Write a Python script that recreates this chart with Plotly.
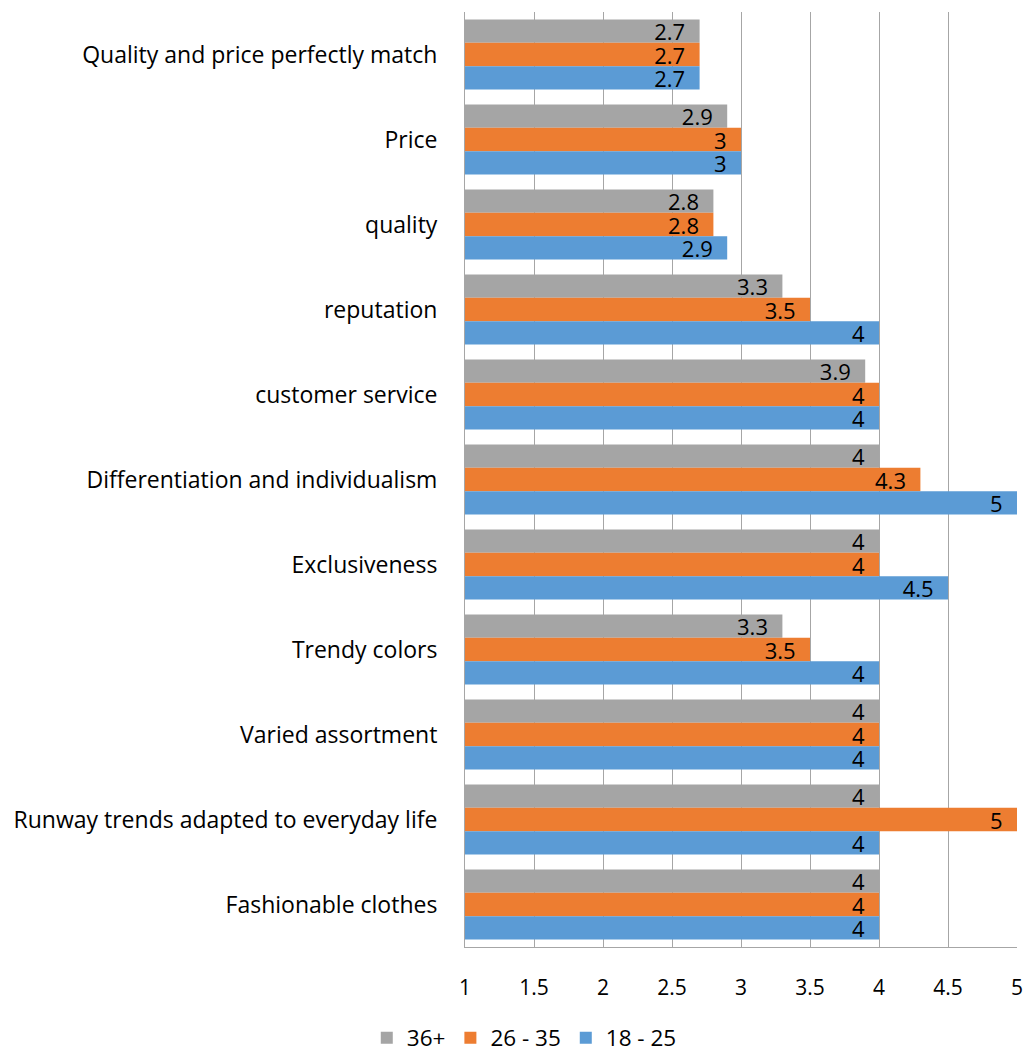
import plotly.graph_objects as go

# Survey attributes (listed top to bottom) and mean scores per age group
categories = [
    "Quality and price perfectly match",
    "Price",
    "quality",
    "reputation",
    "customer service",
    "Differentiation and individualism",
    "Exclusiveness",
    "Trendy colors",
    "Varied assortment",
    "Runway trends adapted to everyday life",
    "Fashionable clothes",
]
age_36_plus = [2.7, 2.9, 2.8, 3.3, 3.9, 4, 4, 3.3, 4, 4, 4]
age_26_35 = [2.7, 3, 2.8, 3.5, 4, 4.3, 4, 3.5, 4, 5, 4]
age_18_25 = [2.7, 3, 2.9, 4, 4, 5, 4.5, 4, 4, 4, 4]

series = [
    ("36+", age_36_plus, "#A5A5A5"),
    ("26 - 35", age_26_35, "#ED7D31"),
    ("18 - 25", age_18_25, "#5B9BD5"),
]

FONT = "'Open Sans', 'Noto Sans', sans-serif"
PAD = "\u00a0\u00a0"  # keeps the value label clear of the bar end

fig = go.Figure()
for name, values, color in series:
    fig.add_trace(go.Bar(
        name=name,
        y=categories,
        x=values,
        base=0,
        orientation="h",
        marker=dict(color=color, line=dict(width=0)),
        text=[f"{v:g}{PAD}" for v in values],
        textposition="inside",
        insidetextanchor="end",
        constraintext="none",
        textangle=0,
        textfont=dict(color="black", size=22, family=FONT),
        cliponaxis=False,
        hovertemplate="%{y}: %{x}<extra>" + name + "</extra>",
    ))

fig.update_layout(
    width=1028,
    height=1053,
    barmode="group",
    bargap=0.175,
    bargroupgap=0,
    plot_bgcolor="white",
    paper_bgcolor="white",
    margin=dict(l=465, r=11, t=12, b=106, autoexpand=False),
    font=dict(family=FONT, size=22, color="black"),
    legend=dict(
        orientation="h",
        xref="container",
        yref="container",
        x=0.51,
        xanchor="center",
        y=0.0142,
        yanchor="middle",
        font=dict(size=22.5, family=FONT),
        itemwidth=30,
    ),
    xaxis=dict(
        range=[1, 5],
        dtick=0.5,
        tick0=1,
        showgrid=True,
        gridcolor="#A6A6A6",
        gridwidth=1,
        showline=True,
        linecolor="#A6A6A6",
        mirror=False,
        zeroline=False,
        ticks="",
        ticklabelstandoff=22,
        tickfont=dict(size=21, family=FONT),
        fixedrange=True,
    ),
    yaxis=dict(
        autorange="reversed",
        showline=True,
        linecolor="#A6A6A6",
        showgrid=False,
        ticks="",
        ticklabelstandoff=22,
        tickfont=dict(size=23, family=FONT),
    ),
)

fig.write_html("out.html")
